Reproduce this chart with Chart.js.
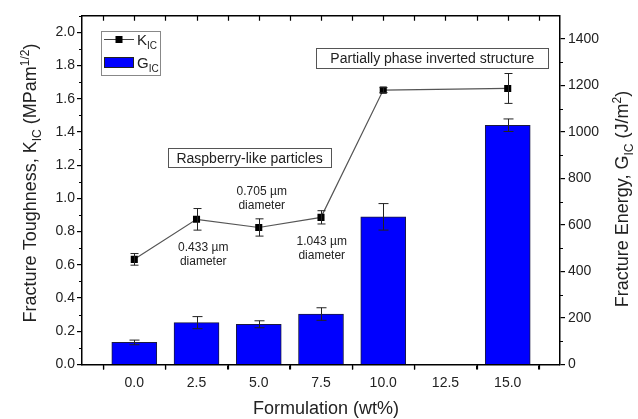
<!DOCTYPE html>
<html>
<head>
<meta charset="utf-8">
<script src="https://cdn.jsdelivr.net/npm/chart.js@4.4.1/dist/chart.umd.min.js"></script>
<style>
  html, body { margin: 0; padding: 0; background: #fff; }
  canvas { display: block; }
</style>
</head>
<body>
<canvas id="chart" width="638" height="419"></canvas>
<script>
// data
var formulations = [0, 2.5, 5, 7.5, 10, 15];
var kicValues = [0.633, 0.874, 0.825, 0.886, 1.652, 1.662];
var kicErrors = [0.035, 0.065, 0.052, 0.04, 0.015, 0.09];
var gicValues = [95, 180, 173, 217, 635, 1029];
var gicErrors = [10, 26, 15, 27, 57, 27];

var xTicks = [0, 2.5, 5, 7.5, 10, 12.5, 15];
var leftTicks = [0, 0.2, 0.4, 0.6, 0.8, 1.0, 1.2, 1.4, 1.6, 1.8, 2.0];
var rightTicks = [0, 200, 400, 600, 800, 1000, 1200, 1400];

var FONT = '"Liberation Sans", Arial, sans-serif';
var TEXT = '#222';

// rich text: parts = [[text, 'n'|'sub'|'sup'], ...]
function richWidth(ctx, parts, size) {
  var w = 0;
  parts.forEach(function(p) {
    ctx.font = (p[1] === 'n' ? size : Math.round(size * 0.65)) + 'px ' + FONT;
    w += ctx.measureText(p[0]).width;
  });
  return w;
}
function drawRich(ctx, parts, x, y, size) {
  var cx = x;
  parts.forEach(function(p) {
    var s = p[1] === 'n' ? size : Math.round(size * 0.65);
    var dy = p[1] === 'sub' ? size * 0.28 : (p[1] === 'sup' ? -size * 0.4 : 0);
    ctx.font = s + 'px ' + FONT;
    ctx.fillText(p[0], cx, y + dy);
    cx += ctx.measureText(p[0]).width;
  });
}

var figurePlugin = {
  id: 'figure',
  afterDatasetsDraw: function(chart) {
    var ctx = chart.ctx;
    var xs = chart.scales.x, ys = chart.scales.y, y2 = chart.scales.y2;
    var area = chart.chartArea;
    ctx.save();

    // error bars
    ctx.strokeStyle = '#222';
    ctx.lineWidth = 1;
    function errBar(xv, yv, ev, scale, cap) {
      var px = Math.round(xs.getPixelForValue(xv)) + 0.5;
      var top = scale.getPixelForValue(yv + ev);
      var bot = scale.getPixelForValue(yv - ev);
      ctx.beginPath();
      ctx.moveTo(px, top); ctx.lineTo(px, bot);
      ctx.moveTo(px - cap, top); ctx.lineTo(px + cap, top);
      ctx.moveTo(px - cap, bot); ctx.lineTo(px + cap, bot);
      ctx.stroke();
    }
    formulations.forEach(function(f, i) {
      errBar(f, gicValues[i], gicErrors[i], y2, 5);
      errBar(f, kicValues[i], kicErrors[i], ys, 4);
    });

    // top frame line with inward ticks
    ctx.strokeStyle = '#000';
    ctx.lineWidth = 1.5;
    ctx.beginPath();
    ctx.moveTo(area.left, area.top); ctx.lineTo(area.right, area.top);
    ctx.stroke();
    ctx.lineWidth = 1.2;
    ctx.beginPath();
    for (var t = -1.25; t <= 16.3; t += 1.25) {
      var tx = Math.round(xs.getPixelForValue(t)) + 0.5;
      ctx.moveTo(tx, area.top); ctx.lineTo(tx, area.top + 5);
      if (Math.abs(t / 2.5 - Math.round(t / 2.5)) > 0.01) {
        ctx.moveTo(tx, area.bottom); ctx.lineTo(tx, area.bottom + 5);
      }
    }
    // minor ticks on y axes
    for (var v = 0.1; v < 2.1; v += 0.2) {
      var py = Math.round(ys.getPixelForValue(v)) + 0.5;
      ctx.moveTo(area.left, py); ctx.lineTo(area.left - 3, py);
    }
    for (var w = 100; w < 1500; w += 200) {
      var qy = Math.round(y2.getPixelForValue(w)) + 0.5;
      ctx.moveTo(area.right, qy); ctx.lineTo(area.right + 3, qy);
    }
    ctx.stroke();

    // annotation boxes
    ctx.fillStyle = TEXT;
    ctx.textBaseline = 'middle';
    ctx.textAlign = 'center';
    function boxLabel(text, xv, yv, bw, bh) {
      var cx = xs.getPixelForValue(xv), cy = ys.getPixelForValue(yv);
      ctx.fillStyle = '#fff';
      ctx.fillRect(cx - bw / 2, cy - bh / 2, bw, bh);
      ctx.strokeStyle = '#555';
      ctx.lineWidth = 1;
      ctx.strokeRect(Math.round(cx - bw / 2) + 0.5, Math.round(cy - bh / 2) + 0.5, bw, bh);
      ctx.fillStyle = TEXT;
      ctx.font = '14px ' + FONT;
      ctx.fillText(text, cx, cy + 1);
    }
    boxLabel('Raspberry-like particles', 4.63, 1.245, 163, 19);
    boxLabel('Partially phase inverted structure', 11.97, 1.847, 232, 20);

    function twoLine(l1, l2, xv, yv) {
      var cx = xs.getPixelForValue(xv), cy = ys.getPixelForValue(yv);
      ctx.font = '12px ' + FONT;
      ctx.fillText(l1, cx, cy);
      ctx.fillText(l2, cx, cy + 13.5);
    }
    twoLine('0.705 \u00b5m', 'diameter', 5.12, 1.04);
    twoLine('0.433 \u00b5m', 'diameter', 2.77, 0.701);
    twoLine('1.043 \u00b5m', 'diameter', 7.53, 0.739);

    // legend
    ctx.strokeStyle = '#888';
    ctx.lineWidth = 1;
    ctx.strokeRect(101.5, 31.5, 59, 44);
    ctx.strokeStyle = '#444';
    ctx.beginPath();
    ctx.moveTo(104, 39.5); ctx.lineTo(134, 39.5);
    ctx.stroke();
    ctx.fillStyle = '#000';
    ctx.fillRect(115.5, 36, 7, 7);
    ctx.fillStyle = 'rgb(0,0,255)';
    ctx.fillRect(104, 57, 30, 11);
    ctx.strokeStyle = '#222';
    ctx.strokeRect(104.5, 57.5, 29, 10);
    ctx.fillStyle = TEXT;
    ctx.textAlign = 'left';
    ctx.textBaseline = 'alphabetic';
    drawRich(ctx, [['K', 'n'], ['IC', 'sub']], 137, 45, 15);
    drawRich(ctx, [['G', 'n'], ['IC', 'sub']], 137, 68, 15);

    // axis titles
    var leftTitle = [['Fracture Toughness, K', 'n'], ['IC', 'sub'], [' (MPam', 'n'], ['1/2', 'sup'], [')', 'n']];
    var rightTitle = [['Fracture Energy, G', 'n'], ['IC', 'sub'], [' (J/m', 'n'], ['2', 'sup'], [')', 'n']];
    ctx.save();
    ctx.translate(36, 183);
    ctx.rotate(-Math.PI / 2);
    drawRich(ctx, leftTitle, -richWidth(ctx, leftTitle, 18) / 2, 0, 18);
    ctx.restore();
    ctx.save();
    ctx.translate(628, 199);
    ctx.rotate(-Math.PI / 2);
    drawRich(ctx, rightTitle, -richWidth(ctx, rightTitle, 18) / 2, 0, 18);
    ctx.restore();
    ctx.font = '18px ' + FONT;
    ctx.textAlign = 'center';
    ctx.fillText('Formulation (wt%)', (area.left + area.right) / 2 + 5, 414);

    ctx.restore();
  }
};

function tickSetter(list) {
  return function(scale) {
    scale.ticks = list.map(function(v) { return { value: v }; });
  };
}

var axisGrid = { drawOnChartArea: false, drawTicks: true, tickLength: 5, color: '#000', lineWidth: 1.2 };
var axisBorder = { display: true, color: '#000', width: 1.5 };

var config = {
  data: {
    datasets: [{
      type: 'line',
      label: 'KIC',
      order: 0,
      yAxisID: 'y',
      data: formulations.map(function(f, i) { return { x: f, y: kicValues[i] }; }),
      borderColor: '#555',
      borderWidth: 1.2,
      pointStyle: 'rect',
      pointRadius: 5,
      pointBackgroundColor: '#000',
      pointBorderColor: '#000',
      pointBorderWidth: 0,
      tension: 0
    }, {
      type: 'bar',
      label: 'GIC',
      order: 1,
      yAxisID: 'y2',
      data: formulations.map(function(f, i) { return { x: f, y: gicValues[i] }; }),
      backgroundColor: 'rgb(0,0,255)',
      borderColor: '#1a1a40',
      borderWidth: 1,
      barThickness: 45
    }]
  },
  options: {
    responsive: false,
    animation: false,
    devicePixelRatio: 1,
    layout: { padding: { top: 15.7, left: 0, right: 0, bottom: 0 } },
    plugins: { legend: { display: false }, tooltip: { enabled: false } },
    scales: {
      x: {
        type: 'linear', min: -2.1, max: 17.1, offset: false,
        afterBuildTicks: tickSetter(xTicks),
        afterFit: function(s) { s.height = 54.5; },
        ticks: { autoSkip: false, maxRotation: 0, padding: 5, color: TEXT,
          font: { family: FONT, size: 14 },
          callback: function(v) { return Number(v).toFixed(1); } },
        grid: axisGrid, border: axisBorder
      },
      y: {
        position: 'left', min: 0, max: 2.1,
        afterBuildTicks: tickSetter(leftTicks),
        afterFit: function(s) { s.width = 82; },
        ticks: { padding: 2, color: TEXT, font: { family: FONT, size: 14 },
          callback: function(v) { return Number(v).toFixed(1); } },
        grid: axisGrid, border: axisBorder
      },
      y2: {
        position: 'right', min: 0, max: 1500,
        afterBuildTicks: tickSetter(rightTicks),
        afterFit: function(s) { s.width = 78; },
        ticks: { padding: 3, color: TEXT, font: { family: FONT, size: 14 },
          callback: function(v) { return String(v); } },
        grid: axisGrid, border: axisBorder
      }
    }
  },
  plugins: [figurePlugin]
};

var ctx = document.getElementById('chart').getContext('2d');
window.myChart = new Chart(ctx, config);
</script>
</body>
</html>
